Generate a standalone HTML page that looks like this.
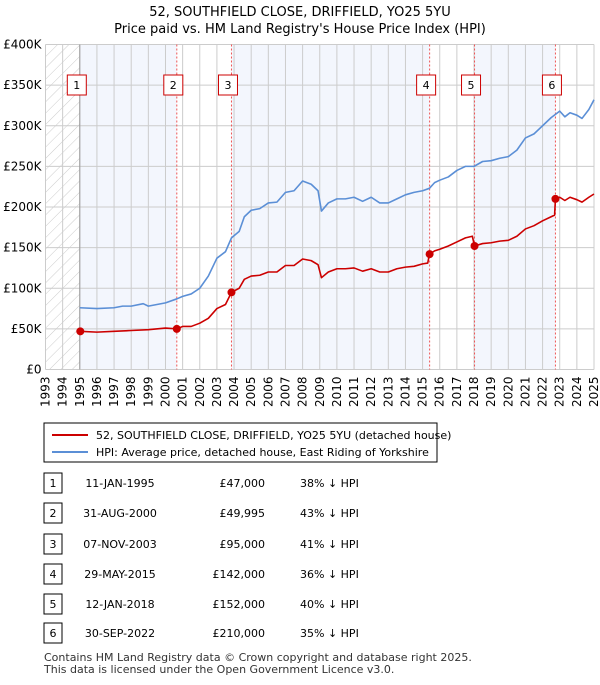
<!DOCTYPE html>
<html><head><meta charset="utf-8"><style>
body{margin:0;background:#fff;font-family:"Liberation Sans","DejaVu Sans",sans-serif;}
svg text{font-family:"DejaVu Sans","Liberation Sans",sans-serif;}
</style></head><body>
<svg id="c" width="600" height="680" xmlns="http://www.w3.org/2000/svg">
<defs><pattern id="hatch" width="8" height="8" patternUnits="userSpaceOnUse" patternTransform="rotate(45)"><line x1="0" y1="0" x2="0" y2="8" stroke="#ccc" stroke-width="1"/></pattern></defs>
<text x="300" y="16" text-anchor="middle" font-size="13" fill="#000">52, SOUTHFIELD CLOSE, DRIFFIELD, YO25 5YU</text>
<text x="300" y="33" text-anchor="middle" font-size="13" fill="#000">Price paid vs. HM Land Registry's House Price Index (HPI)</text>
<g id="plot"></g>
<g>
<rect x="44" y="423" width="393" height="39" fill="#fff" stroke="#000" stroke-width="1"/>
<line x1="52" y1="435" x2="88" y2="435" stroke="#cc0000" stroke-width="2"/>
<text x="96" y="439" font-size="11">52, SOUTHFIELD CLOSE, DRIFFIELD, YO25 5YU (detached house)</text>
<line x1="52" y1="452" x2="88" y2="452" stroke="#5b8fd6" stroke-width="2"/>
<text x="96" y="456" font-size="11">HPI: Average price, detached house, East Riding of Yorkshire</text>
</g>
<g id="table"></g>
<text x="44" y="661" font-size="11" fill="#333">Contains HM Land Registry data © Crown copyright and database right 2025.</text>
<text x="44" y="673" font-size="11" fill="#333">This data is licensed under the Open Government Licence v3.0.</text>
</svg>
<script>
const yearTicks=[1993,1994,1995,1996,1997,1998,1999,2000,2001,2002,2003,2004,2005,2006,2007,2008,2009,2010,2011,2012,2013,2014,2015,2016,2017,2018,2019,2020,2021,2022,2023,2024,2025];
const yTicks=[0,50,100,150,200,250,300,350,400];
const yTickLabels=["£0","£50K","£100K","£150K","£200K","£250K","£300K","£350K","£400K"];
const hpiT=[1995,1996,1997,1997.5,1998,1998.7,1999,1999.5,2000,2000.67,2001,2001.5,2002,2002.5,2003,2003.5,2003.85,2004.3,2004.6,2005,2005.5,2006,2006.5,2007,2007.5,2008,2008.5,2008.9,2009.1,2009.5,2010,2010.5,2011,2011.5,2012,2012.5,2013,2013.5,2014,2014.5,2015,2015.4,2015.7,2016,2016.5,2017,2017.5,2018,2018.5,2019,2019.5,2020,2020.5,2021,2021.5,2022,2022.5,2023,2023.3,2023.6,2024,2024.3,2024.7,2025];
const hpiV=[76,75,76,78,78,81,78,80,82,87,90,93,100,115,137,145,162,170,188,196,198,205,206,218,220,232,228,220,195,205,210,210,212,207,212,205,205,210,215,218,220,223,230,233,237,245,250,250,256,257,260,262,270,285,290,300,310,318,311,316,313,309,320,332];
const redT=[1995,1996,1997,1998,1999,2000,2000.67,2001,2001.5,2002,2002.5,2003,2003.5,2003.85,2004.3,2004.6,2005,2005.5,2006,2006.5,2007,2007.5,2008,2008.5,2008.9,2009.1,2009.5,2010,2010.5,2011,2011.5,2012,2012.5,2013,2013.5,2014,2014.5,2015,2015.3,2015.4,2015.7,2016,2016.5,2017,2017.5,2017.9,2018.03,2018.5,2019,2019.5,2020,2020.5,2021,2021.5,2022,2022.5,2022.7,2022.75,2023,2023.3,2023.6,2024,2024.3,2024.7,2025];
const redV=[47,46,47,48,49,51,50,53,53,57,63,75,80,95,100,111,115,116,120,120,128,128,136,134,129,113,120,124,124,125,121,124,120,120,124,126,127,130,131,142,146,148,152,157,162,164,152,155,156,158,159,164,173,177,183,188,190,210,212,208,212,209,206,212,216];
const saleT=[1995.03,2000.66,2003.85,2015.41,2018.03,2022.75];
const saleV=[47,49.995,95,142,152,210];
const saleDates=["11-JAN-1995","31-AUG-2000","07-NOV-2003","29-MAY-2015","12-JAN-2018","30-SEP-2022"];
const salePrices=["£47,000","£49,995","£95,000","£142,000","£152,000","£210,000"];
const saleHpi=["38% ↓ HPI","43% ↓ HPI","41% ↓ HPI","36% ↓ HPI","40% ↓ HPI","35% ↓ HPI"];
const NS="http://www.w3.org/2000/svg";
const X0=45.5,X1=594,Y0=369.5,Y1=44.5;
const xs=t=>X0+(t-1993)/(2025-1993)*(X1-X0);
const ys=v=>Y0-(v/400)*(Y0-Y1);
const plot=document.getElementById('plot');
function mk(tag,attrs,parent){const e=document.createElementNS(NS,tag);for(const k in attrs)e.setAttribute(k,attrs[k]);(parent||plot).appendChild(e);return e;}
// background bands
const bounds=[1995,...saleT.slice(1),2025];
for(let i=0;i<bounds.length-1;i++){
 const r=mk('rect',{x:xs(bounds[i]),y:Y1,width:xs(bounds[i+1])-xs(bounds[i]),height:Y0-Y1,fill:i%2===0?'#f3f6fd':'#fff'});
 
 
}
const h=mk('rect',{x:X0,y:Y1,width:xs(1995)-X0,height:Y0-Y1,fill:'url(#hatch)'});


// grid
yearTicks.forEach(t=>{
 const l=mk('line',{x1:xs(t),x2:xs(t),y1:Y1,y2:Y0,stroke:'#ccc','stroke-width':1});
 
 
 const tx=mk('text',{x:0,y:0,'font-size':12,'text-anchor':'end',transform:`translate(${xs(t)+4},${Y0+7}) rotate(-90)`});
 tx.textContent=t;
 
 
});
yTicks.forEach((v,i)=>{
 const l=mk('line',{x1:X0,x2:X1,y1:ys(v),y2:ys(v),stroke:'#ccc','stroke-width':1});
 
 
 const tx=mk('text',{x:X0-4,y:ys(v)+4,'font-size':12,'text-anchor':'end'});
 tx.textContent=yTickLabels[i];
 
 
});
const ax=mk('line',{x1:xs(1995),x2:xs(1995),y1:Y1,y2:Y0,stroke:'#999','stroke-width':1});


// sale lines
saleT.forEach((t,i)=>{
 if(i>0){const l=mk('line',{x1:xs(t),x2:xs(t),y1:Y1,y2:Y0,stroke:'#e55','stroke-width':1,'stroke-dasharray':'2,2'});
 
 }
 const g=mk('g',{});
 
 
 mk('rect',{x:xs(t)-13,y:75,width:19,height:20,fill:'#fff',stroke:'#cc0000','stroke-width':1},g);
 const tx=mk('text',{x:xs(t)-3.5,y:89,'font-size':11,'text-anchor':'middle'},g);tx.textContent=i+1;
});
function line(T,V,color,name){
 const p=mk('polyline',{points:T.map((t,i)=>xs(t)+','+ys(V[i])).join(' '),fill:'none',stroke:color,'stroke-width':1.6,'stroke-linejoin':'round'});
 
 
}
line(hpiT,hpiV,'#5b8fd6','hpi-line');
line(redT,redV,'#cc0000','price-paid-line');
saleT.forEach((t,i)=>{
 const c=mk('circle',{cx:xs(t),cy:ys(saleV[i]),r:4,fill:'#cc0000'});
 
 
});
// table
const tb=document.getElementById('table');
const rowY=[483,513,544,574,604,633];
saleDates.forEach((d,i)=>{
 const g=mk('g',{},tb);
 
 
 const y=rowY[i];
 mk('rect',{x:44,y:y-10,width:18,height:20,fill:'#fff',stroke:'#000','stroke-width':1},g);
 let t=mk('text',{x:53,y:y+4,'font-size':11,'text-anchor':'middle'},g);t.textContent=i+1;
 t=mk('text',{x:120,y:y+4,'font-size':11,'text-anchor':'middle'},g);t.textContent=d;
 t=mk('text',{x:265,y:y+4,'font-size':11,'text-anchor':'end'},g);t.textContent=salePrices[i];
 t=mk('text',{x:300,y:y+4,'font-size':11},g);t.textContent=saleHpi[i];
});
</script>
</body></html>
